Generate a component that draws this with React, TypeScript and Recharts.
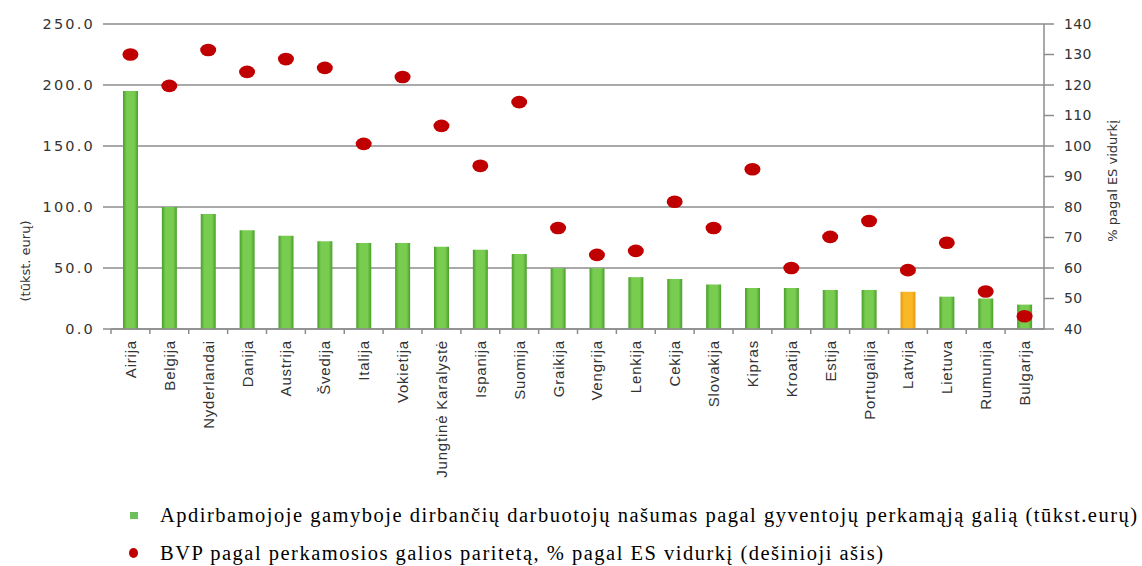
import React from 'react';
import { ComposedChart, Bar, Scatter, XAxis, YAxis, CartesianGrid, Cell } from 'recharts';

const countries = [
  'Airija', 'Belgija', 'Nyderlandai', 'Danija', 'Austrija', 'Švedija', 'Italija', 'Vokietija',
  'Jungtinė Karalystė', 'Ispanija', 'Suomija', 'Graikija', 'Vengrija', 'Lenkija', 'Cekija',
  'Slovakija', 'Kipras', 'Kroatija', 'Estija', 'Portugalija', 'Latvija', 'Lietuva', 'Rumunija', 'Bulgarija',
];

// tūkst. eurų (left axis)
const productivity = [
  195, 100, 94.3, 81, 76.5, 72, 70.5, 70.5, 67.5, 65, 61.5, 49.8, 49.8, 42.5, 41,
  36.5, 33.6, 33.6, 32, 32, 30.5, 26.5, 25, 20,
];

// % pagal ES vidurkį (right axis)
const gdpPps = [
  130, 119.7, 131.5, 124.3, 128.5, 125.6, 100.7, 122.6, 106.6, 93.5, 114.4, 73.1, 64.3, 65.6, 81.7,
  73.1, 92.4, 60, 70.2, 75.4, 59.3, 68.3, 52.3, 44.2,
];

const highlight = 'Latvija';

const leftTicks = [0, 50, 100, 150, 200, 250];
const rightTicks = [40, 50, 60, 70, 80, 90, 100, 110, 120, 130, 140];

const legendItems = [
  'Apdirbamojoje gamyboje dirbančių darbuotojų našumas pagal gyventojų perkamąją galią (tūkst.eurų)',
  'BVP pagal perkamosios galios paritetą, % pagal ES vidurkį (dešinioji ašis)',
];

const data = countries.map((name, i) => ({ name, prod: productivity[i], gdp: gdpPps[i] }));

const axisGray = '#8c8c8c';
const tickFont = { fontFamily: 'DejaVu Sans', fontSize: 14, fill: '#333' };

const CountryTick = (props: any) => {
  const { x, y, payload } = props;
  const half = payload && payload.offset ? payload.offset : 19.4;
  return (
    <g>
      <line x1={x - half} x2={x - half} y1={y} y2={y + 5} stroke={axisGray} strokeWidth={1.5} />
      <text
        x={x}
        y={y + 11}
        transform={`rotate(-90 ${x} ${y + 11})`}
        textAnchor="end"
        dominantBaseline="central"
        fontFamily="Liberation Sans"
        fontSize={15}
        letterSpacing={0.8}
        fill="#333"
      >
        {payload.value}
      </text>
    </g>
  );
};

const Dot = (props: any) => {
  const { cx, cy } = props;
  if (cx == null || cy == null) return null;
  return <ellipse cx={cx} cy={cy} rx={8} ry={6.3} fill="#c00000" />;
};

export default function App() {
  return (
    <div style={{ position: 'absolute', left: 0, top: 0, width: 1142, height: 566, background: '#fff', overflow: 'hidden' }}>
      <ComposedChart width={1142} height={566} data={data} margin={{ top: 24, right: 0, bottom: 0, left: 0 }}>
        <defs>
          <linearGradient id="greenBar" x1="0" y1="0" x2="1" y2="0">
            <stop offset="0%" stopColor="#4a9e2c" />
            <stop offset="25%" stopColor="#78cd50" />
            <stop offset="75%" stopColor="#78cd50" />
            <stop offset="100%" stopColor="#4a9e2c" />
          </linearGradient>
          <linearGradient id="orangeBar" x1="0" y1="0" x2="1" y2="0">
            <stop offset="0%" stopColor="#e69a12" />
            <stop offset="25%" stopColor="#fbb826" />
            <stop offset="75%" stopColor="#fbb826" />
            <stop offset="100%" stopColor="#e69a12" />
          </linearGradient>
        </defs>
        <CartesianGrid yAxisId="left" vertical={false} stroke={axisGray} strokeWidth={1.5} />
        <XAxis
          dataKey="name"
          interval={0}
          height={237}
          tickLine={false}
          tickSize={0}
          tickMargin={0}
          axisLine={{ stroke: axisGray, strokeWidth: 1.5 }}
          tick={<CountryTick />}
        />
        <YAxis
          yAxisId="left"
          width={111}
          domain={[0, 250]}
          ticks={leftTicks}
          tickFormatter={(v: number) => v.toFixed(1)}
          axisLine={false}
          tickLine={{ stroke: axisGray, strokeWidth: 1.5 }}
          tickSize={8}
          tickMargin={8}
          tick={{ ...tickFont, fontSize: 14.5, letterSpacing: 2.2 }}
          label={{
            content: () => (
              <text x={25} y={261} transform="rotate(-90 25 261)" textAnchor="middle" dominantBaseline="central"
                fontFamily="DejaVu Sans" fontSize={13} fill="#333">
                (tūkst. eurų)
              </text>
            ),
          }}
        />
        <YAxis
          yAxisId="right"
          orientation="right"
          width={98}
          domain={[40, 140]}
          ticks={rightTicks}
          axisLine={{ stroke: axisGray, strokeWidth: 1.5 }}
          tickLine={{ stroke: axisGray, strokeWidth: 1.5 }}
          tickSize={10}
          tickMargin={10}
          tick={{ ...tickFont, letterSpacing: 0.4 }}
          label={{
            content: () => (
              <text x={1112} y={181} transform="rotate(-90 1112 181)" textAnchor="middle" dominantBaseline="central"
                fontFamily="DejaVu Sans" fontSize={13} fill="#333">
                % pagal ES vidurkį
              </text>
            ),
          }}
        />
        <Bar yAxisId="left" dataKey="prod" barSize={15} isAnimationActive={false}>
          {data.map((d) => (
            <Cell key={d.name} fill={d.name === highlight ? 'url(#orangeBar)' : 'url(#greenBar)'} />
          ))}
        </Bar>
        <Scatter yAxisId="right" dataKey="gdp" shape={<Dot />} isAnimationActive={false} />
      </ComposedChart>
      <div style={{ position: 'absolute', left: 126, top: 496, fontFamily: 'Liberation Serif', fontSize: 20.5, letterSpacing: 1.5, color: '#000' }}>
        {legendItems.map((t, i) => (
          <div key={t} style={{ display: 'flex', alignItems: 'center', height: 38, whiteSpace: 'nowrap' }}>
            {i === 0 ? (
              <span style={{ display: 'inline-block', width: 8, height: 7, background: '#6cbf5a', marginLeft: 4, marginRight: 22 }} />
            ) : (
              <span style={{ display: 'inline-block', width: 9, height: 10, borderRadius: '50%', background: '#c00000', marginLeft: 3, marginRight: 22 }} />
            )}
            <span>{t}</span>
          </div>
        ))}
      </div>
    </div>
  );
}
